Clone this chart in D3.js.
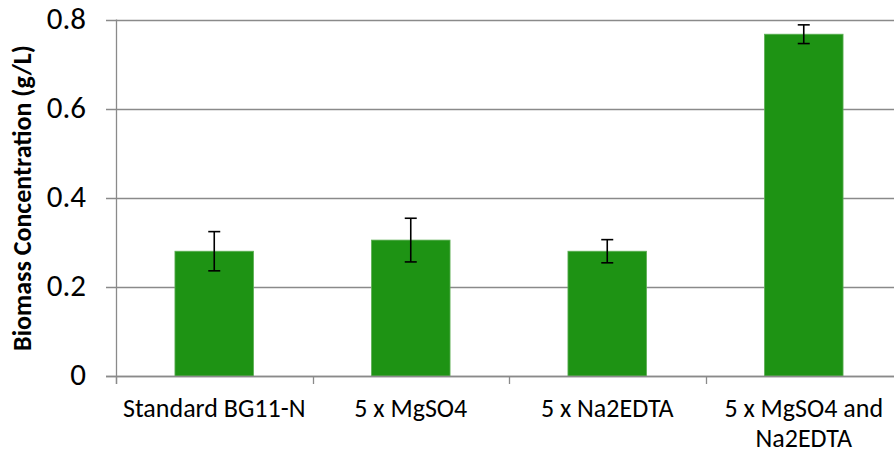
<!DOCTYPE html>
<html>
<head>
<meta charset="utf-8">
<script src="https://cdn.jsdelivr.net/npm/d3@7"></script>
<style>
  body { margin: 0; background: #fff; }
  text { font-family: Carlito, "Open Sans", sans-serif; fill: #000; }
</style>
</head>
<body>
<script>
// categories and values
const categories = ["Standard BG11-N", "5 x MgSO4", "5 x Na2EDTA", "5 x MgSO4 and Na2EDTA"];
const labelLines = [["Standard BG11-N"], ["5 x MgSO4"], ["5 x Na2EDTA"], ["5 x MgSO4 and", "Na2EDTA"]];
const biomass = [0.28, 0.305, 0.28, 0.767];
const errors = [0.044, 0.049, 0.026, 0.021];
const yTicks = [0, 0.2, 0.4, 0.6, 0.8];

const w = 894;
const h = 453;
const plotLeft = 116, plotTop = 19.5, plotBottom = 376;
const step = 196.5;

const svg = d3.select("body")
    .append("svg")
    .attr("width", w)
    .attr("height", h);

const xScale = d3.scaleBand()
    .domain(categories)
    .range([plotLeft, plotLeft + step * categories.length])
    .padding(0);

const yScale = d3.scaleLinear()
    .domain([0, 0.8])
    .range([plotBottom, plotTop]);

const barW = xScale.bandwidth() * 0.4;

// gridlines (extend left past the axis like ticks)
svg.append("g")
  .selectAll("line")
  .data(yTicks)
  .enter()
  .append("line")
  .attr("x1", plotLeft - 10)
  .attr("x2", w)
  .attr("y1", (d) => Math.round(yScale(d)) + 0.5)
  .attr("y2", (d) => Math.round(yScale(d)) + 0.5)
  .attr("stroke", "#8a8a8a")
  .attr("stroke-width", 1.3);

// y tick labels
svg.append("g")
  .selectAll("text")
  .data(yTicks)
  .enter()
  .append("text")
  .attr("x", 86)
  .attr("y", (d) => yScale(d) + 9)
  .attr("text-anchor", "end")
  .style("font-size", "31px")
  .text((d) => d === 0 ? "0" : d.toFixed(1));

// bars
svg.append("g")
  .selectAll("rect")
  .data(biomass)
  .enter()
  .append("rect")
  .attr("x", (d, i) => xScale(categories[i]) + (xScale.bandwidth() - barW) / 2)
  .attr("y", (d) => yScale(d))
  .attr("width", barW)
  .attr("height", (d) => yScale(0) - yScale(d))
  .attr("fill", "#1e9314")
  .attr("stroke", "#5fb056")
  .attr("stroke-width", 0.8);

// axes lines
svg.append("line")
  .attr("x1", plotLeft + 0.5).attr("x2", plotLeft + 0.5)
  .attr("y1", plotTop).attr("y2", plotBottom + 8)
  .attr("stroke", "#8a8a8a").attr("stroke-width", 1.3);

svg.append("line")
  .attr("x1", plotLeft - 10).attr("x2", w)
  .attr("y1", Math.round(plotBottom) + 0.5).attr("y2", Math.round(plotBottom) + 0.5)
  .attr("stroke", "#8a8a8a").attr("stroke-width", 1.3);

// x tick marks between categories
svg.append("g")
  .selectAll("line")
  .data(categories)
  .enter()
  .append("line")
  .attr("x1", (d) => Math.round(xScale(d)) + 0.5)
  .attr("x2", (d) => Math.round(xScale(d)) + 0.5)
  .attr("y1", plotBottom)
  .attr("y2", plotBottom + 8)
  .attr("stroke", "#8a8a8a")
  .attr("stroke-width", 1.3);

// error bars
const err = svg.append("g").attr("stroke", "#000").attr("stroke-width", 1.6);
biomass.forEach((v, i) => {
  const cx = xScale(categories[i]) + xScale.bandwidth() / 2;
  const y1 = yScale(v + errors[i]);
  const y2 = yScale(v - errors[i]);
  err.append("line").attr("x1", cx).attr("x2", cx).attr("y1", y1).attr("y2", y2);
  err.append("line").attr("x1", cx - 6).attr("x2", cx + 6).attr("y1", y1).attr("y2", y1);
  err.append("line").attr("x1", cx - 6).attr("x2", cx + 6).attr("y1", y2).attr("y2", y2);
});

// x category labels
const xl = svg.append("g")
  .selectAll("text")
  .data(labelLines)
  .enter()
  .append("text")
  .attr("x", (d, i) => xScale(categories[i]) + xScale.bandwidth() / 2)
  .attr("y", 417)
  .attr("text-anchor", "middle")
  .style("font-size", "26px");

xl.selectAll("tspan")
  .data((d) => d)
  .enter()
  .append("tspan")
  .attr("x", function () { return d3.select(this.parentNode).attr("x"); })
  .attr("dy", (d, j) => j === 0 ? 0 : 30)
  .text((d) => d);

// y axis title
svg.append("text")
  .attr("transform", "translate(31," + ((43 + 353) / 2) + ") rotate(-90)")
  .attr("text-anchor", "middle")
  .style("font-size", "26px")
  .style("font-weight", "bold")
  .text("Biomass Concentration (g/L)");
</script>
</body>
</html>
